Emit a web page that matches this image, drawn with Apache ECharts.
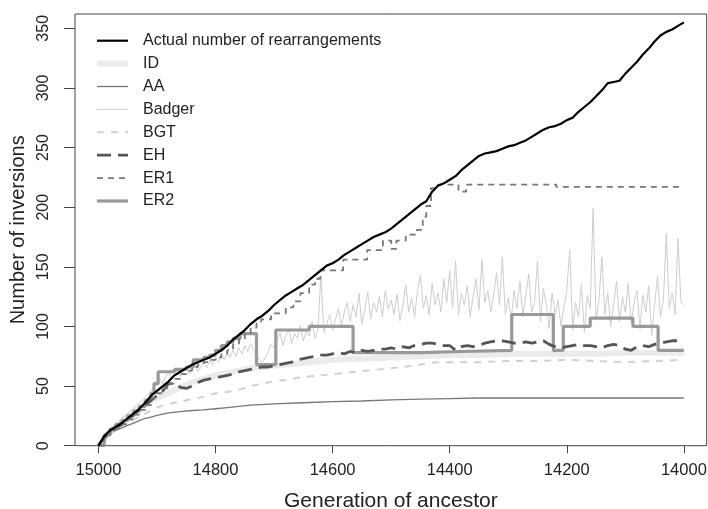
<!DOCTYPE html>
<html><head><meta charset="utf-8">
<script src="https://cdn.jsdelivr.net/npm/echarts@6/dist/echarts.min.js"></script>
<style>html,body{margin:0;padding:0;background:#fff}#c{width:708px;height:509px}</style>
</head><body><div id="c"></div>
<script>
const FONT = "'Liberation Sans', Arial, sans-serif";
const xTicks = [15000, 14800, 14600, 14400, 14200, 14000];
const yTicks = [0, 50, 100, 150, 200, 250, 300, 350];
const seriesNames = ['Actual number of rearrangements', 'ID', 'AA', 'Badger', 'BGT', 'EH', 'ER1', 'ER2'];

// Actual number of rearrangements, every 10 generations from 15000 to 14000
const actual = [
  0, 8, 13, 16, 19, 23, 27, 31, 36, 42,
  46, 50, 54, 59, 62, 65, 68, 70, 72, 74,
  77, 80, 84, 89, 93, 97, 102, 106, 109, 113,
  118, 122, 126, 129, 132, 135, 139, 143, 147, 151,
  153, 156, 160, 163, 166, 169, 172, 175, 177, 179,
  182, 186, 190, 194, 198, 202, 205, 213, 218, 220,
  223, 226, 231, 235, 239, 243, 245, 246, 247, 249,
  251, 252, 254, 256, 259, 262, 265, 267, 268, 270,
  273, 275, 280, 284, 288, 293, 298, 304, 305, 306,
  312, 317, 322, 328, 333, 339, 344, 347, 349, 352,
  355
];
// EH, every 10 generations
const eh = [
  0, 7, 12, 15, 18, 22, 26, 30, 34, 38,
  42, 46, 52, 52, 49, 48, 50, 53, 55, 56,
  57, 58, 59, 60, 62, 63, 64, 65, 66, 66,
  67, 68, 69, 70, 72, 73, 74, 75, 76, 76,
  77, 78, 77, 79, 78, 80, 79, 80, 81, 81,
  82, 81, 83, 82, 84, 85, 86, 86, 85, 84,
  84, 80, 83, 84, 83, 84, 86, 87, 88, 88,
  87, 86, 86, 87, 86, 87, 88, 85, 83, 82,
  83, 84, 85, 84, 84, 83, 82, 84, 85, 84,
  81, 80, 83, 84, 83, 85, 86, 87, 88, 88,
  89
];
// Badger, every 5 generations
const badger = [
  0, 4, 8, 11, 14, 16, 18, 20, 22, 25, 27, 29, 31, 34, 36, 38, 41, 43, 46, 50, 53,
  56, 52, 58, 61, 55, 60, 63, 58, 62, 66, 60, 64, 68, 62, 66, 70, 65, 72, 68, 74,
  70, 76, 72, 78, 74, 80, 75, 82, 77, 84, 79, 86, 80, 76, 72, 70, 74, 79, 85, 82,
  88, 95, 84, 92, 98, 86, 94, 90, 101, 88, 96, 92, 104, 90, 98, 143, 95, 102, 110, 97,
  106, 115, 100, 112, 120, 104, 118, 108, 128, 102, 114, 129, 106, 120, 112, 125, 108, 130, 115, 122,
  110, 127, 105, 118, 135, 112, 124, 108, 130, 143, 115, 126, 110, 136, 118, 128, 112, 140, 120, 147,
  116, 155, 110, 128, 118, 134, 108, 125, 140, 114, 156, 120, 130, 112, 126, 145, 118, 158, 110, 124,
  106, 130, 115, 138, 108, 126, 144, 112, 120, 155, 104, 132, 118, 98, 128, 110, 122, 100, 116, 130,
  164, 97, 120, 108, 135, 95, 126, 115, 199, 105, 122, 158, 110, 128, 100, 118, 138, 104, 125, 112,
  136, 103, 120, 130, 98, 126, 112, 134, 92, 118, 142, 108, 122, 178, 115, 128, 110, 174, 120, 118
];
// ER1 and ER2: [generation where level starts, level]
const er1Steps = [
  [15000,0],[14990,7],[14980,12],[14970,15],[14960,18],[14950,22],[14940,26],[14930,30],[14920,34],[14910,40],
  [14900,44],[14890,48],[14880,52],[14870,56],[14860,60],[14850,63],[14840,66],[14830,68],[14820,70],[14810,72],
  [14800,74],[14790,77],[14780,80],[14770,85],[14760,89],[14750,94],[14740,99],[14730,104],[14722,106],[14705,111],
  [14680,116],[14667,121],[14655,128],[14640,135],[14630,140],[14621,147],[14582,156],[14541,164],[14514,172],[14500,165],
  [14491,172],[14475,177],[14456,181],[14446,192],[14440,201],[14432,216],[14420,219],[14385,213],[14372,219],[14218,217],
  [14000,217]
];
const er2Steps = [
  [15000,0],[14990,9],[14980,14],[14970,18],[14960,21],[14950,25],[14940,29],[14930,33],[14920,38],[14910,44],
  [14905,52],[14898,62],[14870,64],[14850,66],[14838,72],[14820,74],[14810,76],[14800,80],[14790,84],[14780,87],
  [14770,90],[14758,94],[14730,68],[14697,97],[14640,100],[14565,78],[14450,79],[14380,80],[14294,110],[14223,80],
  [14206,100],[14160,107],[14087,100],[14044,80],[14000,80]
];
const idPts = [
  [15000,0],[14980,12],[14960,21],[14940,28],[14920,35],[14900,40],[14880,44],[14860,49],[14840,53],[14820,56],
  [14800,59],[14780,61],[14760,63],[14740,65],[14720,66],[14700,67],[14680,68],[14660,69],[14640,70],[14620,71],
  [14600,72],[14550,73],[14500,74],[14450,75],[14400,76],[14350,76],[14300,77],[14250,77],[14200,77],[14150,77],
  [14100,78],[14050,78],[14000,78]
];
const aaPts = [
  [15000,0],[14990,6],[14980,10],[14970,13],[14960,15],[14950,17],[14940,19],[14930,21],[14920,23],[14910,24],
  [14900,25.5],[14880,27.5],[14860,28.5],[14840,29.5],[14820,30],[14800,31],[14780,32],[14760,33],[14740,34],[14700,35],
  [14650,36],[14600,37],[14550,37.5],[14500,38.5],[14450,39],[14400,39.5],[14350,40],[14300,40],[14250,40],[14200,40],
  [14150,40],[14100,40],[14050,40],[14000,40]
];
const bgtPts = [
  [15000,0],[14980,10],[14960,17],[14940,22],[14920,27],[14900,32],[14880,35],[14860,37],[14840,39],[14820,41],
  [14800,44],[14780,45],[14760,47],[14740,50],[14720,52],[14700,54],[14680,55],[14660,57],[14640,58],[14620,59],
  [14600,60],[14580,61],[14560,62],[14540,63],[14520,64],[14500,65],[14480,66],[14460,67],[14440,69],[14420,70],
  [14400,70],[14350,70],[14300,71],[14250,71],[14200,72],[14150,71],[14100,70],[14050,71],[14000,72]
];

function withGen(values, step) {
  return values.map((v, i) => [15000 - i * step, v]);
}

const styles = {
  'Actual number of rearrangements': { color: '#000000', width: 2.2, type: 'solid' },
  'ID': { color: '#ebebeb', width: 6, type: 'solid' },
  'AA': { color: '#777777', width: 1.3, type: 'solid' },
  'Badger': { color: '#cdcdcd', width: 1, type: 'solid' },
  'BGT': { color: '#d0d0d0', width: 2, type: [7, 7] },
  'EH': { color: '#555555', width: 2.8, type: [14, 7] },
  'ER1': { color: '#777777', width: 1.8, type: [6, 5] },
  'ER2': { color: '#999999', width: 3.2, type: 'solid' }
};

function mk(name, data, step) {
  const s = styles[name];
  return {
    name, type: 'line', data, symbol: 'none', step: step || false, silent: true,
    lineStyle: { color: s.color, width: s.width, type: s.type, cap: 'butt' },
    itemStyle: { color: s.color },
    emphasis: { disabled: true }
  };
}

const chart = echarts.init(document.getElementById('c'), null, { renderer: 'canvas' });
chart.setOption({
  animation: false,
  backgroundColor: '#ffffff',
  textStyle: { fontFamily: FONT },
  grid: { left: 75, right: 1.3, top: 14, bottom: 63.3, show: true, borderColor: '#444', borderWidth: 1, backgroundColor: 'transparent', containLabel: false, outerBoundsMode: 'none' },
  legend: {
    orient: 'vertical', left: 94, top: 32.7, padding: 0, itemWidth: 31, itemHeight: 16, itemGap: 6.9,
    selectedMode: false,
    itemStyle: { opacity: 0 },
    textStyle: { fontSize: 16, color: '#222', fontFamily: FONT, padding: [0, 0, 0, 10] },
    data: seriesNames.map(n => ({ name: n, lineStyle: { width: styles[n].width, type: styles[n].type, color: styles[n].color } }))
  },
  xAxis: {
    type: 'value', inverse: true, min: 13961, max: 15040,
    name: 'Generation of ancestor', nameLocation: 'middle', nameGap: 45,
    nameTextStyle: { fontSize: 21, color: '#222', fontFamily: FONT },
    axisLine: { show: false },
    axisTick: { show: true, length: 7.5, lineStyle: { color: '#444' }, customValues: xTicks },
    axisLabel: { fontSize: 16.5, color: '#222', margin: 16, fontFamily: FONT, customValues: xTicks, formatter: v => String(v) },
    splitLine: { show: false }
  },
  yAxis: {
    type: 'value', min: 0, max: 362,
    name: 'Number of inversions', nameLocation: 'middle', nameGap: 46,
    nameTextStyle: { fontSize: 20, color: '#222', fontFamily: FONT },
    axisLine: { show: false },
    axisTick: { show: true, length: 11, lineStyle: { color: '#444' }, customValues: yTicks },
    axisLabel: { fontSize: 16, color: '#222', margin: 23, rotate: 90, fontFamily: FONT, customValues: yTicks, formatter: v => String(v) },
    splitLine: { show: false }
  },
  series: [
    mk('ID', idPts),
    mk('AA', aaPts),
    mk('Badger', withGen(badger, 5)),
    mk('BGT', bgtPts),
    mk('ER2', er2Steps, 'end'),
    mk('EH', withGen(eh, 10)),
    mk('ER1', er1Steps, 'end'),
    mk('Actual number of rearrangements', withGen(actual, 10))
  ]
});
</script></body></html>
